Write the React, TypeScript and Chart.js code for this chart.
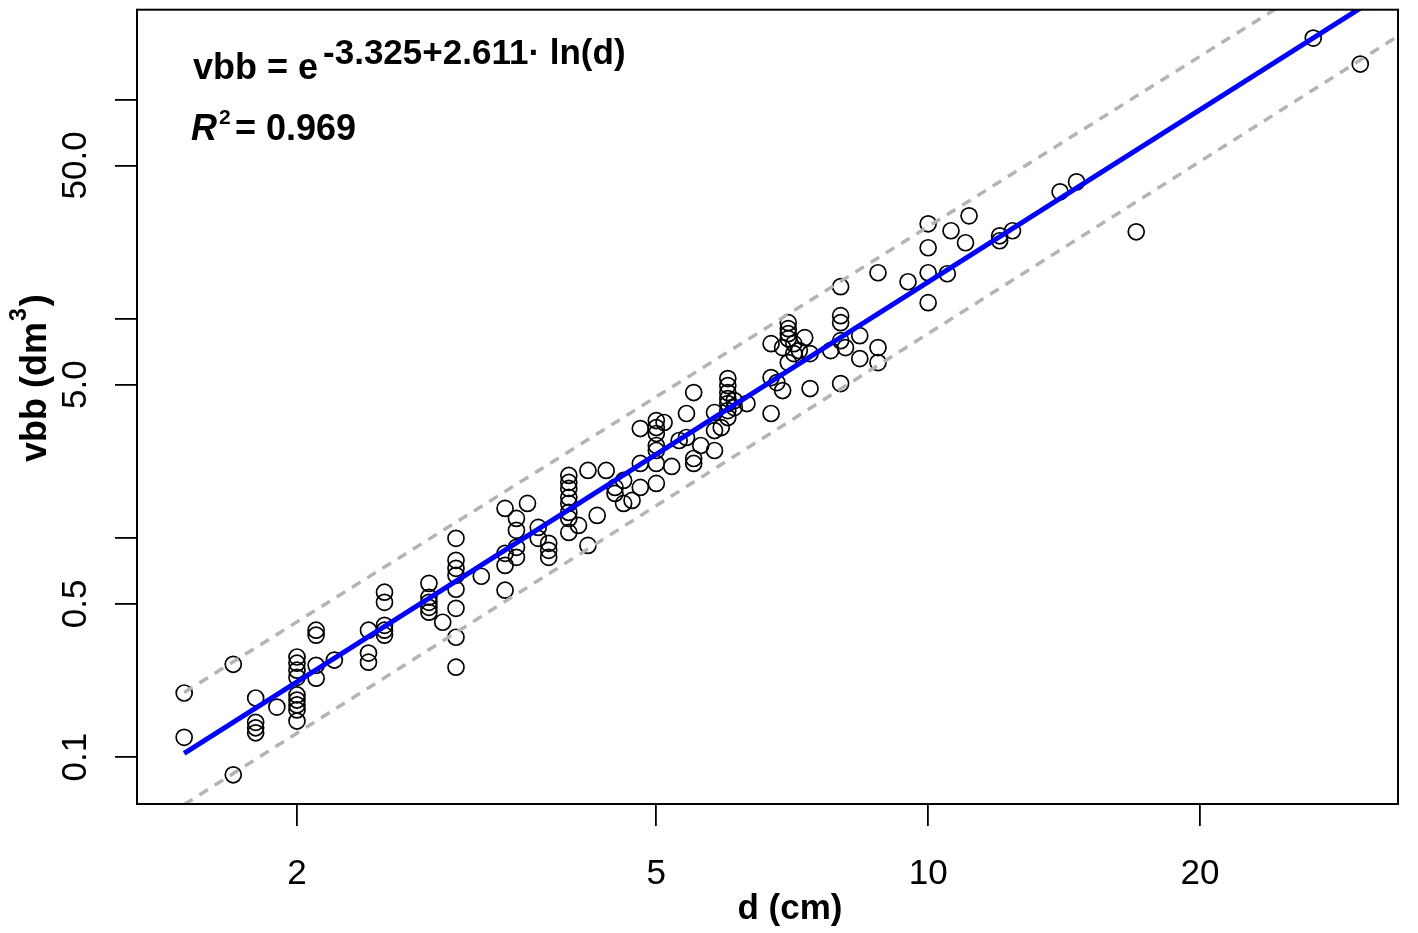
import React, { useEffect, useRef } from 'react';
import { Chart, registerables } from 'chart.js';

Chart.register(...registerables);

const diameters: number[] = [
  1.5, 1.5,
  1.7, 1.7,
  1.8, 1.8, 1.8, 1.8,
  1.9,
  2.0, 2.0, 2.0, 2.0, 2.0, 2.0, 2.0, 2.0, 2.0,
  2.1, 2.1, 2.1, 2.1,
  2.2,
  2.4, 2.4, 2.4,
  2.5, 2.5, 2.5, 2.5, 2.5,
  2.8, 2.8, 2.8, 2.8, 2.8,
  2.9,
  3.0, 3.0, 3.0, 3.0, 3.0, 3.0, 3.0, 3.0,
  3.2,
  3.4, 3.4, 3.4, 3.4,
  3.5, 3.5, 3.5, 3.5,
  3.6,
  3.7, 3.7,
  3.8, 3.8, 3.8,
  4.0, 4.0, 4.0, 4.0, 4.0, 4.0, 4.0, 4.0,
  4.1,
  4.2, 4.2,
  4.3,
  4.4,
  4.5, 4.5,
  4.6, 4.6,
  4.7,
  4.8, 4.8, 4.8,
  5.0, 5.0, 5.0, 5.0, 5.0, 5.0, 5.0,
  5.1,
  5.2,
  5.3,
  5.4, 5.4,
  5.5, 5.5, 5.5,
  5.6,
  5.8, 5.8, 5.8,
  5.9,
  6.0, 6.0, 6.0, 6.0, 6.0, 6.0, 6.0,
  6.1, 6.1,
  6.3,
  6.7, 6.7, 6.7,
  6.8,
  6.9, 6.9,
  7.0, 7.0, 7.0, 7.0, 7.0,
  7.1, 7.1,
  7.2,
  7.3,
  7.4, 7.4,
  7.8,
  8.0, 8.0, 8.0, 8.0, 8.0,
  8.1,
  8.4, 8.4,
  8.8, 8.8, 8.8,
  9.5,
  10.0, 10.0, 10.0, 10.0,
  10.5,
  10.6,
  11.0,
  11.1,
  12.0, 12.0,
  12.4,
  14.0,
  14.6,
  17.0,
  26.7,
  30.1,
];

const volumes: number[] = [
  0.196, 0.123,
  0.265, 0.083,
  0.186, 0.144, 0.136, 0.129,
  0.169,
  0.286, 0.268, 0.249, 0.231, 0.192, 0.182, 0.173, 0.164, 0.146,
  0.379, 0.360, 0.262, 0.229,
  0.277,
  0.379, 0.298, 0.271,
  0.565, 0.508, 0.399, 0.379, 0.360,
  0.620, 0.536, 0.508, 0.482, 0.458,
  0.412,
  0.995, 0.790, 0.726, 0.675, 0.583, 0.477, 0.352, 0.257,
  0.668,
  1.363, 0.850, 0.749, 0.577,
  1.227, 1.082, 0.905, 0.815,
  1.436,
  1.116, 0.995,
  0.944, 0.877, 0.815,
  1.926, 1.790, 1.681, 1.529, 1.436, 1.307, 1.227, 1.059,
  1.140,
  2.030, 0.924,
  1.266,
  2.030,
  1.699, 1.595,
  1.828, 1.436,
  1.482,
  3.153, 2.185, 1.699,
  3.429, 3.186, 2.993, 2.638, 2.503, 2.185, 1.772,
  3.359,
  2.117,
  2.781,
  3.692, 2.870,
  4.602, 2.302, 2.185,
  2.638,
  3.731, 3.087, 2.503,
  3.186,
  5.331, 4.953, 4.602, 4.320, 4.100, 3.808, 3.540,
  3.930, 4.230,
  4.100,
  7.693, 5.386, 3.692,
  5.110,
  7.379, 4.699,
  9.590, 9.003, 8.544, 8.108, 6.303,
  7.693, 6.928,
  7.150,
  8.193,
  6.928, 4.799,
  7.150,
  13.99, 10.32, 9.590, 7.939, 5.056,
  7.379,
  8.367, 6.574,
  16.20, 7.379, 6.303,
  14.74,
  27.09, 21.06, 16.20, 11.83,
  16.03,
  25.18,
  22.20,
  29.45,
  23.88, 22.67,
  25.18,
  37.89,
  42.08,
  24.91,
  190.6,
  145.1,
];

// Fitted line (vbb = e^(-3.325 + 2.611 ln d)) end points and prediction band end points
const fitD: number[] = [1.5, 32];
const fitV: number[] = [0.104, 306];
const upperD: number[] = [1.5, 30];
const upperV: number[] = [0.197, 448];
const lowerD: number[] = [1.5, 34];
const lowerV: number[] = [0.0607, 208];

// Axis ranges and ticks
const xRange: number[] = [1.33, 33.14];
const yRange: number[] = [0.06107, 256.8];
const xTicks: number[] = [2, 5, 10, 20];
const xTickLabels: string[] = ['2', '5', '10', '20'];
const yTicks: number[] = [0.1, 0.5, 1, 5, 10, 50, 100];
const yTickLabels: string[] = ['0.1', '0.5', '', '5.0', '', '50.0', ''];

const FONT = '"Liberation Sans", Arial, Helvetica, sans-serif';

const decorPlugin = {
  id: 'decor',
  afterDraw(chart: any) {
    const { ctx, chartArea: ca, scales } = chart;
    ctx.save();
    // plot box
    ctx.strokeStyle = '#000';
    ctx.lineWidth = 2;
    ctx.strokeRect(ca.left, ca.top, ca.right - ca.left, ca.bottom - ca.top);

    ctx.fillStyle = '#000';
    ctx.textBaseline = 'alphabetic';

    // x tick labels
    ctx.font = `35px ${FONT}`;
    ctx.textAlign = 'center';
    xTicks.forEach((v, i) => {
      ctx.fillText(xTickLabels[i], scales.x.getPixelForValue(v), 884);
    });

    // y tick labels (rotated)
    yTicks.forEach((v, i) => {
      if (!yTickLabels[i]) return;
      ctx.save();
      ctx.translate(86, scales.y.getPixelForValue(v));
      ctx.rotate(-Math.PI / 2);
      ctx.textAlign = 'center';
      ctx.fillText(yTickLabels[i], 0, 0);
      ctx.restore();
    });

    // x title
    ctx.font = `bold 35px ${FONT}`;
    ctx.textAlign = 'center';
    ctx.fillText('d (cm)', 790, 919);

    // y title (rotated)
    ctx.save();
    ctx.translate(46, 462);
    ctx.rotate(-Math.PI / 2);
    ctx.textAlign = 'left';
    ctx.font = `bold 36px ${FONT}`;
    const p1 = 'vbb (dm';
    ctx.fillText(p1, 0, 0);
    const w1 = ctx.measureText(p1).width;
    ctx.font = `bold 23px ${FONT}`;
    ctx.fillText('3', w1 + 1, -20);
    const w2 = ctx.measureText('3').width;
    ctx.font = `bold 36px ${FONT}`;
    ctx.fillText(')', w1 + w2 + 3, 0);
    ctx.restore();

    // equation
    ctx.textAlign = 'left';
    ctx.font = `bold 36px ${FONT}`;
    const base = 'vbb = e';
    ctx.fillText(base, 193, 79);
    const wb = ctx.measureText(base).width;
    ctx.font = `bold 35px ${FONT}`;
    ctx.fillText('-3.325+2.611\u00B7 ln(d)', 193 + wb + 5, 64);

    // R^2
    ctx.font = `italic bold 36px ${FONT}`;
    ctx.fillText('R', 191, 140);
    const wr = ctx.measureText('R').width;
    ctx.font = `bold 21px ${FONT}`;
    ctx.fillText('2', 191 + wr + 2, 124);
    ctx.font = `bold 36px ${FONT}`;
    ctx.textAlign = 'right';
    ctx.fillText('= 0.969', 356, 140);

    ctx.restore();
  },
};

export default function App() {
  const canvasRef = useRef<HTMLCanvasElement | null>(null);

  useEffect(() => {
    document.body.style.margin = '0';
    const canvas = canvasRef.current;
    if (!canvas) return;

    const points = diameters.map((d, i) => ({ x: d, y: volumes[i] }));
    const toXY = (xs: number[], ys: number[]) => xs.map((x, i) => ({ x, y: ys[i] }));

    const tickGrid = {
      display: true,
      drawOnChartArea: false,
      drawTicks: true,
      tickLength: 22,
      tickColor: '#000',
      tickWidth: 1.8,
      color: '#000',
      lineWidth: 1.8,
    };

    const chart = new Chart(canvas, {
      type: 'scatter',
      data: {
        datasets: [
          {
            type: 'line',
            data: toXY(fitD, fitV),
            borderColor: '#0000FF',
            borderWidth: 5,
            pointRadius: 0,
            fill: false,
            order: 0,
          } as any,
          {
            type: 'line',
            data: toXY(upperD, upperV),
            borderColor: '#B4B4B4',
            borderWidth: 3.5,
            borderDash: [10, 8],
            pointRadius: 0,
            fill: false,
            order: 1,
          } as any,
          {
            type: 'line',
            data: toXY(lowerD, lowerV),
            borderColor: '#B4B4B4',
            borderWidth: 3.5,
            borderDash: [10, 8],
            pointRadius: 0,
            fill: false,
            order: 1,
          } as any,
          {
            type: 'scatter',
            data: points,
            pointStyle: 'circle',
            pointRadius: 8,
            pointHoverRadius: 8,
            borderColor: '#000',
            borderWidth: 1.7,
            backgroundColor: 'rgba(0,0,0,0)',
            order: 2,
          } as any,
        ],
      },
      options: {
        responsive: false,
        animation: false,
        events: [],
        layout: { padding: { top: 8, right: 20, left: 0, bottom: 0 } },
        plugins: {
          legend: { display: false },
          tooltip: { enabled: false },
        },
        scales: {
          x: {
            type: 'logarithmic',
            position: 'bottom',
            min: xRange[0],
            max: xRange[1],
            afterBuildTicks: (s: any) => {
              s.ticks = xTicks.map((v) => ({ value: v }));
            },
            afterFit: (s: any) => {
              s.height = 129;
            },
            ticks: { display: false },
            grid: tickGrid,
            border: { display: false },
          },
          y: {
            type: 'logarithmic',
            position: 'left',
            min: yRange[0],
            max: yRange[1],
            afterBuildTicks: (s: any) => {
              s.ticks = yTicks.map((v) => ({ value: v }));
            },
            afterFit: (s: any) => {
              s.width = 137;
            },
            ticks: { display: false },
            grid: tickGrid,
            border: { display: false },
          },
        },
      } as any,
      plugins: [decorPlugin],
    });

    return () => {
      chart.destroy();
    };
  }, []);

  return (
    <div style={{ width: 1418, height: 933, background: '#fff' }}>
      <canvas ref={canvasRef} width={1418} height={933} style={{ display: 'block' }} />
    </div>
  );
}
